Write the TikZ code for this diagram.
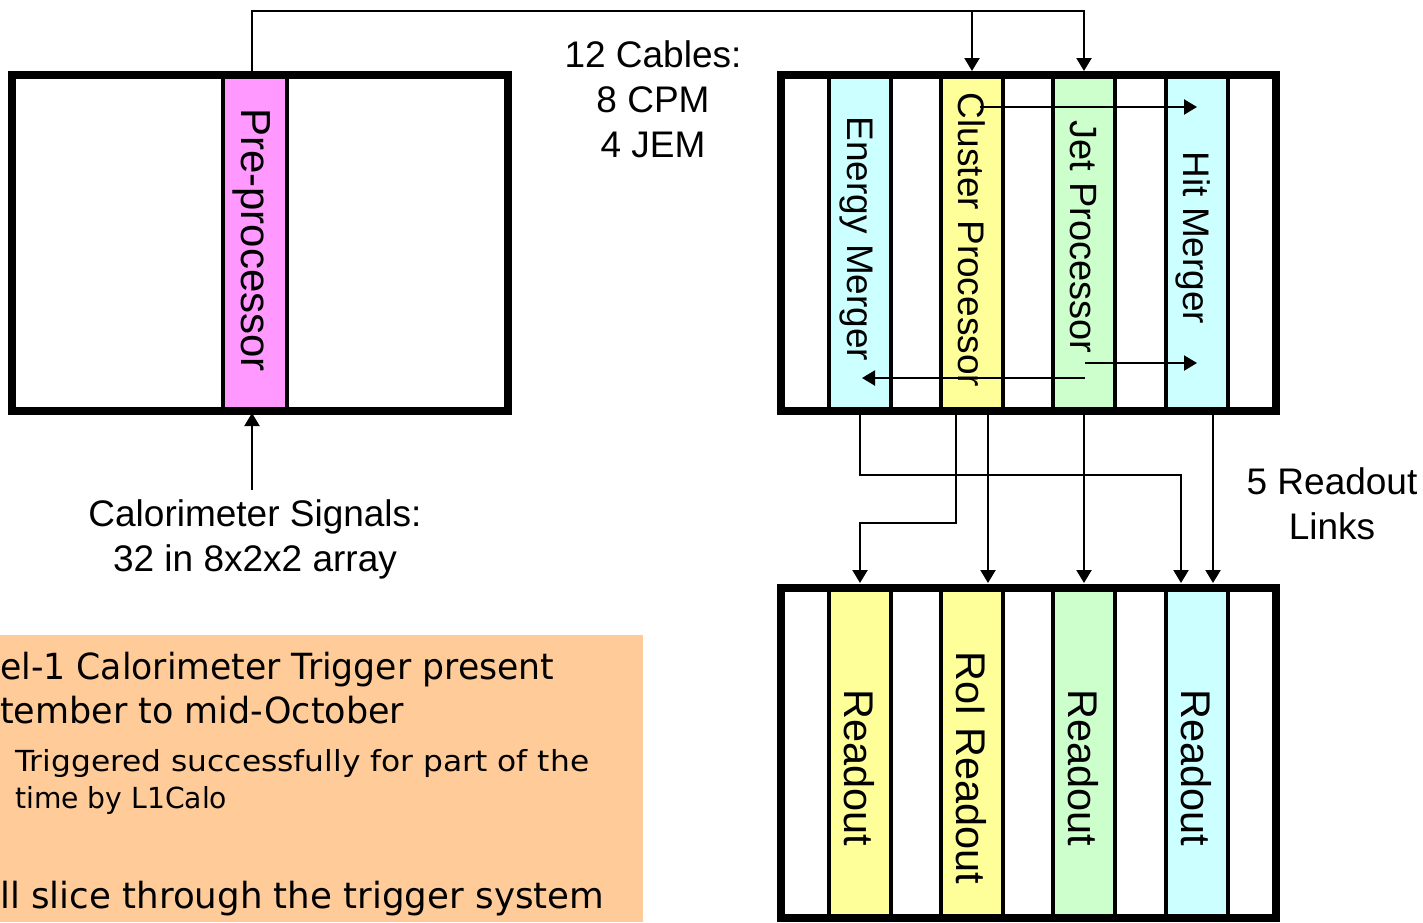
\documentclass[tikz,border=0pt]{standalone}
\usepackage{fontspec}
\usepackage{graphicx}
\setmainfont{Liberation Sans}
\newfontfamily\notefont{DejaVu Sans}
\usetikzlibrary{arrows.meta}
\definecolor{pinkfill}{HTML}{FF99FF}
\definecolor{cyanfill}{HTML}{CCFFFF}
\definecolor{yellowfill}{HTML}{FFFF99}
\definecolor{greenfill}{HTML}{CCFFCC}
\definecolor{notefill}{HTML}{FFCC99}
\begin{document}
\begin{tikzpicture}[x=1pt,y=-1pt,
  bigbox/.style={draw,line width=8pt,inner sep=0pt},
  slot/.style={draw,line width=4pt,inner sep=0pt,minimum width=62pt},
  vtext/.style={rotate=-90,inner sep=0pt,text depth=0pt},
  conn/.style={line width=2.2pt},
  arr/.style={conn,-{Triangle[width=15pt,length=13pt]}},
  lbl/.style={align=center,inner sep=0pt,font=\fontsize{37}{45}\selectfont},
  bignote/.style={inner sep=0pt,anchor=base west,font=\notefont\fontsize{36}{44}\selectfont},
  smallnote/.style={inner sep=0pt,anchor=base west,font=\notefont\fontsize{29}{37}\selectfont},
]
\useasboundingbox (0,0) rectangle (1423,922);

% orange note
\node[fill=notefill,inner sep=0pt,minimum width=643pt,minimum height=287pt,anchor=north west] (note) at (0,635) {};
\node[bignote] (n1) at (0,679) {\resizebox{554pt}{\height}{el-1 Calorimeter Trigger present}};
\node[bignote] (n2) at (0,723) {\resizebox{404pt}{\height}{tember to mid-October}};
\node[smallnote] (n3) at (15,771) {\resizebox{574pt}{\height}{Triggered successfully for part of the}};
\node[smallnote] (n4) at (15,808) {\resizebox{212pt}{\height}{time by L1Calo}};
\node[bignote] (n5) at (0,908) {\resizebox{604pt}{\height}{ll slice through the trigger system}};

% slots
\node[slot,fill=pinkfill,minimum width=64pt,minimum height=336pt] (pp) at (255,243) {};
\node[slot,fill=cyanfill,minimum height=336pt] (em) at (860,243) {};
\node[slot,fill=yellowfill,minimum height=336pt] (cp) at (972,243) {};
\node[slot,fill=greenfill,minimum height=336pt] (jp) at (1084,243) {};
\node[slot,fill=cyanfill,minimum height=336pt] (hm) at (1197,243) {};
\node[slot,fill=yellowfill,minimum height=330pt] (r1) at (860,752) {};
\node[slot,fill=yellowfill,minimum height=330pt] (r2) at (972,752) {};
\node[slot,fill=greenfill,minimum height=330pt] (r3) at (1084,752) {};
\node[slot,fill=cyanfill,minimum height=330pt] (r4) at (1197,752) {};

% crates
\node[bigbox,minimum width=496pt,minimum height=336pt] (lb) at (260,243) {};
\node[bigbox,minimum width=495pt,minimum height=336pt] (top) at (1028.5,243) {};
\node[bigbox,minimum width=495pt,minimum height=330pt] (bot) at (1028.5,753) {};

% vertical texts
\node[vtext,font=\fontsize{42}{45}\selectfont] (tpp) at (256,240) {Pre-processor};
\node[vtext,font=\fontsize{37}{45}\selectfont] (tem) at (860,239) {Energy Merger};
\node[vtext,font=\fontsize{37}{45}\selectfont] (tcp) at (972,240) {Cluster Processor};
\node[vtext,font=\fontsize{38}{45}\selectfont] (tjp) at (1084,237) {Jet Processor};
\node[vtext,font=\fontsize{37}{45}\selectfont] (thm) at (1197,238) {Hit Merger};
\node[vtext,font=\fontsize{41.5}{45}\selectfont] (tr1) at (860,768) {Readout};
\node[vtext,font=\fontsize{41.5}{45}\selectfont] (tr2) at (972,768) {RoI Readout};
\node[vtext,font=\fontsize{41.5}{45}\selectfont] (tr3) at (1084,768) {Readout};
\node[vtext,font=\fontsize{41.5}{45}\selectfont] (tr4) at (1197,768) {Readout};

% labels
\node[lbl,anchor=north] (cables) at (653,40) {12 Cables:\\8 CPM\\4 JEM};
\node[lbl,anchor=north] (cal) at (255,499) {Calorimeter Signals:\\32 in 8x2x2 array};
\node[lbl,anchor=north] (links) at (1332,467) {5 Readout\\Links};

% top bus
\coordinate (bus) at (0,11);
\draw[arr] ([xshift=-3pt]pp.north) |- (bus -| jp) -- (jp |- top.north);
\draw[arr] (bus -| cp) -- (cp |- top.north);

% inner connections
\coordinate (c1) at (980,107);
\coordinate (j1) at (1085,363);
\coordinate (j2) at (1085,378);
\draw[arr] (c1) -- (hm |- c1);
\draw[arr] (j1) -- (hm |- j1);
\draw[arr] (j2) -- ([xshift=2pt]em |- j2);

% readout links
\draw[arr] (em.south) -- ++(0,62) -| ([xshift=-16pt,yshift=2pt]r4.north);
\draw[arr] ([xshift=-16pt]cp.south) -- ++(0,110) -| ([yshift=2pt]r1.north);
\draw[arr] ([xshift=16pt]cp.south) -- ([xshift=16pt,yshift=2pt]r2.north);
\draw[arr] (jp.south) -- ([yshift=2pt]r3.north);
\draw[arr] ([xshift=16pt]hm.south) -- ([xshift=16pt,yshift=2pt]r4.north);

% calorimeter input
\draw[arr] ([xshift=-3pt,yshift=9pt]cal.north) -- ([xshift=-3pt]pp.south);
\end{tikzpicture}
\end{document}
